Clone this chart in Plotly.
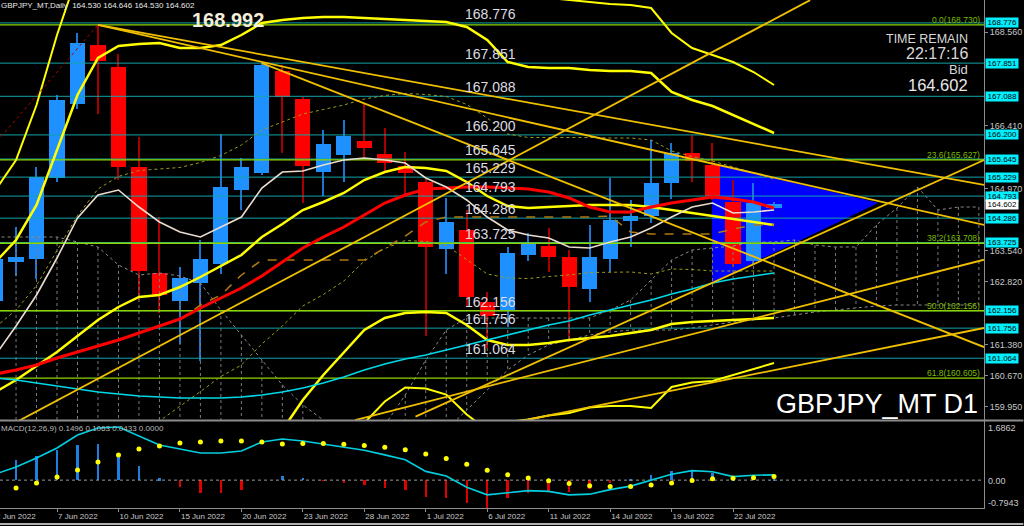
import plotly.graph_objects as go

# ---------------- data ----------------
bar_dates = ["2 Jun", "3 Jun", "6 Jun", "7 Jun", "8 Jun", "9 Jun", "10 Jun", "13 Jun", "14 Jun", "15 Jun",
             "16 Jun", "17 Jun", "20 Jun", "21 Jun", "22 Jun", "23 Jun", "24 Jun", "27 Jun", "28 Jun", "29 Jun",
             "30 Jun", "1 Jul", "4 Jul", "5 Jul", "6 Jul", "7 Jul", "8 Jul", "11 Jul", "12 Jul", "13 Jul",
             "14 Jul", "15 Jul", "18 Jul", "19 Jul", "20 Jul", "21 Jul", "22 Jul", "25 Jul", "26 Jul"]
opens = [162.38, 163.28, 163.35, 165.21, 166.91, 168.27, 167.76, 165.46, 163.02, 162.38,
         162.79, 163.23, 164.93, 165.32, 167.67, 167.03, 165.35, 165.74, 166.06, 165.76,
         165.49, 165.12, 163.58, 164.01, 162.36, 162.15, 163.44, 163.64, 163.39, 162.66,
         163.35, 164.22, 164.34, 165.09, 165.78, 165.51, 164.66, 163.30, 164.530]
highs = [163.55, 164.08, 165.46, 167.12, 168.54, 168.73, 168.06, 166.15, 164.31, 163.16,
         163.78, 166.22, 165.67, 167.85, 167.81, 167.07, 166.31, 166.54, 166.93, 166.36,
         165.81, 165.21, 164.75, 164.47, 162.59, 163.62, 163.94, 164.06, 163.55, 164.13,
         165.21, 164.70, 166.08, 166.01, 166.20, 166.01, 165.16, 165.09, 164.646]
lows = [162.20, 162.95, 162.89, 165.12, 166.80, 166.68, 165.16, 162.40, 162.10, 161.40,
        161.00, 163.00, 164.47, 165.28, 165.78, 164.63, 164.80, 165.12, 165.69, 165.35,
        164.77, 161.58, 163.00, 162.27, 161.30, 161.78, 163.30, 163.05, 161.44, 162.36,
        163.05, 163.62, 164.17, 164.73, 165.12, 164.70, 163.16, 163.23, 164.530]
closes = [163.35, 163.39, 165.23, 167.00, 168.31, 167.90, 165.46, 163.07, 162.52, 162.91,
          163.35, 165.00, 165.46, 167.81, 167.07, 165.49, 165.99, 166.18, 165.90, 165.55,
          165.32, 163.62, 164.20, 162.47, 162.04, 163.48, 163.71, 163.39, 162.70, 163.39,
          164.24, 164.34, 165.09, 165.78, 165.60, 164.80, 163.23, 164.63, 164.602]
bar_idx = list(range(len(opens)))

tick_idx = [3, 6, 9, 12, 15, 18, 21, 24, 27, 30, 33, 36]
tick_text = ["7 Jun 2022", "10 Jun 2022", "15 Jun 2022", "20 Jun 2022", "23 Jun 2022", "28 Jun 2022",
             "1 Jul 2022", "6 Jul 2022", "11 Jul 2022", "14 Jul 2022", "19 Jul 2022", "22 Jul 2022"]
first_label = "2 Jun 2022"

# moving averages
ma_red = [160.701, 160.793, 160.908, 161.069, 161.207, 161.345, 161.483, 161.644, 161.805, 161.966,
          162.219, 162.449, 162.679, 162.955, 163.277, 163.599, 163.852, 164.082, 164.358, 164.634,
          164.818, 164.956, 164.979, 165.002, 165.002, 164.979, 164.956, 164.887, 164.749, 164.542,
          164.427, 164.427, 164.542, 164.634, 164.703, 164.772, 164.726, 164.657, 164.519]
ma_white = [161.138, 161.805, 162.518, 163.369, 164.289, 164.818, 164.933, 164.542, 164.197, 163.967,
            163.852, 164.082, 164.312, 164.979, 165.347, 165.370, 165.508, 165.623, 165.669, 165.623,
            165.554, 165.209, 165.002, 164.703, 164.312, 164.013, 163.898, 163.829, 163.622, 163.599,
            163.737, 163.852, 164.059, 164.312, 164.542, 164.634, 164.404, 164.427, 164.473]
ma_cyan = [160.609, 160.563, 160.494, 160.425, 160.356, 160.287, 160.241, 160.195, 160.172, 160.149,
           160.149, 160.149, 160.172, 160.218, 160.287, 160.379, 160.494, 160.632, 160.793, 160.931,
           161.046, 161.138, 161.253, 161.368, 161.483, 161.598, 161.713, 161.828, 161.920, 162.058,
           162.173, 162.288, 162.403, 162.541, 162.656, 162.794, 162.886, 162.955, 163.024]

# Bollinger-style bands
bb_mid = [160.287, 160.563, 160.885, 161.207, 161.575, 161.943, 162.242, 162.472, 162.518, 162.702,
          162.932, 163.185, 163.438, 163.852, 164.151, 164.473, 164.657, 164.864, 165.163, 165.347,
          165.462, 165.439, 165.370, 165.117, 164.795, 164.565, 164.519, 164.542, 164.565, 164.588,
          164.588, 164.588, 164.542, 164.473, 164.404, 164.335, 164.266, 164.197, 164.128]
bb_up2 = [163.277, 163.783, 164.588, 165.853, 167.118, 167.969, 168.245, 168.291, 168.314, 168.199,
          168.199, 168.268, 168.498, 168.774, 168.843, 168.889, 168.912, 168.912, 168.889, 168.866,
          168.843, 168.820, 168.797, 168.682, 168.383, 167.877, 167.762, 167.739, 167.739, 167.693,
          167.670, 167.670, 167.624, 167.187, 167.003, 166.865, 166.658, 166.451, 166.244]
bb_lo2 = [157.297, 157.343, 157.182, 156.561, 156.032, 155.917, 156.239, 156.653, 156.722, 157.205,
          157.665, 158.102, 158.378, 158.930, 159.413, 160.103, 160.678, 161.207, 161.713, 161.989,
          162.104, 162.127, 162.104, 161.828, 161.483, 161.368, 161.368, 161.414, 161.483, 161.529,
          161.575, 161.644, 161.713, 161.851, 161.897, 161.920, 161.943, 161.966, 161.989]
bb_up3 = [164.933, 165.623, 166.888, 168.498, 169.890, 170.982, 171.247, 171.201, 171.212, 170.948,
          170.833, 170.810, 171.028, 171.235, 171.189, 171.097, 171.040, 170.936, 170.752, 170.626,
          170.534, 170.511, 170.511, 170.465, 170.177, 169.533, 169.384, 169.350, 169.303, 169.256,
          169.211, 169.188, 169.119, 168.544, 168.199, 168.038, 167.877, 167.647, 167.348]
bb_lo3 = [155.802, 155.733, 155.330, 154.238, 153.260, 152.904, 153.237, 153.743, 153.824, 154.456,
          155.031, 155.560, 155.848, 156.469, 157.113, 157.849, 158.274, 158.792, 159.574, 160.068,
          160.390, 160.367, 160.229, 159.769, 159.413, 159.597, 159.654, 159.746, 159.804, 159.930,
          159.965, 159.965, 159.919, 160.402, 160.505, 160.540, 160.678, 160.816, 160.954]
bb_up1 = [161.782, 162.173, 162.737, 163.530, 164.347, 164.956, 165.244, 165.382, 165.416, 165.451,
          165.566, 165.727, 165.968, 166.313, 166.497, 166.681, 166.785, 166.888, 167.026, 167.107,
          167.153, 167.130, 167.084, 166.900, 166.589, 166.221, 166.141, 166.141, 166.152, 166.141,
          166.129, 166.129, 166.083, 165.830, 165.704, 165.600, 165.462, 165.324, 165.186]
bb_lo1 = [158.792, 158.953, 159.033, 158.884, 158.803, 158.930, 159.240, 159.562, 159.620, 159.953,
          160.298, 160.643, 160.908, 161.391, 161.805, 162.265, 162.529, 162.840, 163.300, 163.587,
          163.771, 163.748, 163.656, 163.334, 163.001, 162.909, 162.897, 162.943, 162.978, 163.035,
          163.047, 163.047, 163.001, 163.116, 163.104, 163.070, 163.070, 163.070, 163.070]

# dashed base line
kijun_idx = list(range(9, 39))
kijun = [161.943, 162.288, 162.518, 162.978, 163.323, 163.323, 163.323, 163.323, 163.323, 163.323,
         163.599, 163.875, 164.197, 164.312, 164.312, 164.312, 164.312, 164.312, 164.312, 164.312,
         164.312, 164.335, 163.967, 163.921, 163.921, 163.921, 163.921, 164.036, 164.128, 164.128]

# cloud (dotted), shifted into the future
cloud_idx = list(range(0, 49))
span_a = [163.852, 163.852, 163.852, 163.852, 163.737, 163.622, 163.208, 162.978, 163.024, 162.955,
          162.794, 162.173, 161.598, 161.023, 160.448, 159.988, 159.643, 159.413, 159.298, 159.528,
          160.218, 161.023, 161.713, 161.989, 161.989, 161.989, 161.989, 161.989, 161.989, 161.989,
          162.173, 162.403, 162.863, 163.323, 163.553, 163.599, 163.645, 163.737, 163.737, 163.783,
          163.668, 163.622, 163.622, 164.128, 164.519, 165.002, 164.473, 164.542, 164.542]
span_b = [159.183, 159.183, 159.183, 159.183, 159.183, 159.183, 159.183, 159.183, 159.183, 159.183,
          159.183, 159.183, 159.183, 159.183, 159.183, 159.183, 159.183, 159.183, 159.183, 159.183,
          159.183, 159.183, 159.413, 159.873, 160.333, 160.793, 161.138, 161.368, 161.483, 161.598,
          161.667, 161.713, 161.713, 161.713, 161.759, 161.828, 161.897, 161.943, 161.989, 162.058,
          162.127, 162.173, 162.219, 162.265, 162.288, 162.288, 162.288, 162.288, 162.288]

# zigzag segment (red dotted)
zig_idx = [-3.0, 5.0]
zig_val = [164.39, 168.73]

# trend lines: (start index, start price, end index, end price)
trend_x0 = [5.0, 5.0, 13.0, 0.2, 20.5, 17.55, 25.85]
trend_p0 = [168.73, 168.73, 167.85, 159.39, 159.72, 159.64, 159.64]
trend_x1 = [48.25, 48.25, 48.25, 39.76, 48.25, 48.25, 48.25]
trend_p1 = [165.05, 164.13, 161.32, 169.30, 165.62, 163.33, 161.76]

# blue triangle
tri_idx = [35.0, 43.03, 35.0]
tri_val = [165.531, 164.634, 162.817]

# horizontal price levels
levels = [168.776, 167.851, 167.088, 166.200, 165.645, 165.229, 164.793, 164.286, 163.725, 162.156, 161.756, 161.064]
fib_vals = [168.730, 165.627, 163.708, 162.156, 160.605]
fib_pct = ["0.0", "23.6", "38.2", "50.0", "61.8"]
bid = 164.602
axis_ticks = [168.560, 166.410, 164.970, 163.540, 162.820, 161.380, 160.670, 159.950]

# MACD pane
macd_line = [0.175, 0.374, 0.631, 0.916, 1.287, 1.486, 1.515, 1.258, 1.002, 0.888, 0.774, 0.774, 0.831, 1.087,
             1.173, 1.116, 1.030, 0.95, 0.85, 0.72, 0.58, 0.25, 0.12, -0.20, -0.42, -0.36, -0.30, -0.32,
             -0.42, -0.40, -0.27, -0.17, 0.0, 0.17, 0.27, 0.24, 0.10, 0.14, 0.1496]
macd_signal = [-0.281, -0.224, -0.082, 0.089, 0.289, 0.517, 0.717, 0.888, 0.973, 1.059, 1.087, 1.116, 1.116,
               1.087, 1.030, 1.047, 1.044, 1.025, 0.990, 0.936, 0.865, 0.742, 0.618, 0.454, 0.279, 0.151,
               0.061, -0.015, -0.096, -0.157, -0.180, -0.178, -0.142, -0.080, -0.010, 0.040, 0.052, 0.070, 0.1063]
macd_hist = [0.456, 0.574, 0.688, 0.859, 1.002, 1.030, 0.782, 0.403, 0.052, -0.204, -0.376, -0.358, -0.281,
             0.0, 0.118, 0.069, -0.014, -0.075, -0.140, -0.216, -0.285, -0.492, -0.498, -0.654, -0.7943,
             -0.511, -0.361, -0.305, -0.324, -0.243, -0.090, 0.008, 0.142, 0.250, 0.280, 0.200, 0.048, 0.070, 0.0433]
macd_top, macd_bottom = 1.6862, -0.7943

# ---------------- figure ----------------
X_RANGE = [0.217, 48.25]
P_RANGE = [159.643, 169.303]
FONT = "Liberation Sans, Arial, sans-serif"
UP_BODY, UP_WICK = "#1E90FF", "#1C74D4"
DN_BODY, DN_WICK = "#FF0000", "#A80000"
PAD = "\u2009"

fig = go.Figure()

# triangle (background object)
tri_path = "M {} {} L {} {} L {} {} Z".format(tri_idx[0], tri_val[0], tri_idx[1], tri_val[1], tri_idx[2], tri_val[2])
fig.add_shape(type="path", path=tri_path, xref="x", yref="y", fillcolor="#0000FF",
              line=dict(color="#0000FF", width=1), layer="below")

# candles: wicks then bodies
is_up = [c >= o for o, c in zip(opens, closes)]
fig.add_trace(go.Bar(x=bar_idx, y=[h - l for h, l in zip(highs, lows)], base=lows, width=0.06,
                     marker=dict(color=[UP_WICK if u else DN_WICK for u in is_up], line=dict(width=0)),
                     hoverinfo="skip"))
fig.add_trace(go.Bar(x=bar_idx, y=[max(abs(c - o), 0.02) for o, c in zip(opens, closes)],
                     base=[min(o, c) for o, c in zip(opens, closes)], width=0.74,
                     marker=dict(color=[UP_BODY if u else DN_BODY for u in is_up], line=dict(width=0)),
                     customdata=bar_dates))

# cloud hatch (vertical dotted lines) + borders
hx, hy = [], []
for i, a, b in zip(cloud_idx, span_a, span_b):
    hx += [i, i, None]
    hy += [a, b, None]
fig.add_trace(go.Scatter(x=hx, y=hy, mode="lines", line=dict(color="#7a7a7a", width=1, dash="dot"),
                         hoverinfo="skip"))
fig.add_trace(go.Scatter(x=cloud_idx, y=span_a, mode="lines", line=dict(color="#8a8a8a", width=1, dash="dot")))
fig.add_trace(go.Scatter(x=cloud_idx, y=span_b, mode="lines", line=dict(color="#8a8a8a", width=1, dash="dot")))

# horizontal levels
for v in levels:
    fig.add_trace(go.Scatter(x=X_RANGE, y=[v, v], mode="lines", line=dict(color="#13A3AA", width=1)))
for v in fib_vals:
    fig.add_trace(go.Scatter(x=X_RANGE, y=[v, v], mode="lines", line=dict(color="#8CD400", width=1.3)))

# bands
for arr, w, d, c in [(bb_up1, 1, "dot", "#9C9C1A"), (bb_lo1, 1, "dot", "#9C9C1A"),
                     (bb_up3, 2, "solid", "#FFFF00"), (bb_lo3, 2, "solid", "#FFFF00"),
                     (bb_up2, 2.5, "solid", "#FFFF00"), (bb_lo2, 2.5, "solid", "#FFFF00"),
                     (bb_mid, 2.5, "solid", "#FFFF00")]:
    fig.add_trace(go.Scatter(x=bar_idx, y=arr, mode="lines", line=dict(color=c, width=w, dash=d)))

fig.add_trace(go.Scatter(x=kijun_idx, y=kijun, mode="lines", line=dict(color="#B07A10", width=1.5, dash="dash")))
fig.add_trace(go.Scatter(x=bar_idx, y=ma_cyan, mode="lines", line=dict(color="#00D8E8", width=1.6)))
fig.add_trace(go.Scatter(x=bar_idx, y=ma_red, mode="lines", line=dict(color="#FF0000", width=3)))
fig.add_trace(go.Scatter(x=bar_idx, y=ma_white, mode="lines", line=dict(color="#EADCCF", width=1.6)))
fig.add_trace(go.Scatter(x=zig_idx, y=zig_val, mode="lines", line=dict(color="#B00000", width=1, dash="dot")))

# trend lines
for x0, p0, x1, p1 in zip(trend_x0, trend_p0, trend_x1, trend_p1):
    fig.add_trace(go.Scatter(x=[x0, x1], y=[p0, p1], mode="lines", line=dict(color="#F0C000", width=1.8)))

# MACD pane
fig.add_trace(go.Scatter(x=X_RANGE, y=[0, 0], mode="lines", yaxis="y2",
                         line=dict(color="#9a9a9a", width=1, dash="dot")))
fig.add_trace(go.Bar(x=bar_idx, y=macd_hist, yaxis="y2", width=0.12,
                     marker=dict(color=["#1E7FE0" if v >= 0 else "#E00000" for v in macd_hist], line=dict(width=0))))
fig.add_trace(go.Scatter(x=bar_idx, y=macd_line, mode="lines", yaxis="y2", line=dict(color="#00CFE0", width=1.6)))
fig.add_trace(go.Scatter(x=bar_idx, y=macd_signal, mode="markers", yaxis="y2",
                         marker=dict(color="#FFFF00", size=5)))

# ---------------- annotations ----------------
ann = []
LBL_X = 22.82
for v in levels:
    ann.append(dict(x=LBL_X, y=v, xref="x", yref="y", text=f"{v:.3f}", showarrow=False, xanchor="left",
                    yanchor="bottom", yshift=-1, font=dict(family=FONT, size=14, color="#DCDCE4")))
    ann.append(dict(x=1, y=v, xref="paper", yref="y", text=f"{PAD}{v:.3f}{PAD}", showarrow=False, xanchor="left",
                    yanchor="middle", xshift=1, bgcolor="#00F0FF", borderpad=0,
                    font=dict(family=FONT, size=8, color="#000000")))
for v, pct in zip(fib_vals, fib_pct):
    ann.append(dict(x=1, y=v, xref="paper", yref="y", text=f"{pct}({v:.3f})", showarrow=False,
                    xanchor="right", yanchor="bottom", xshift=-2, yshift=-2,
                    font=dict(family=FONT, size=8.5, color="#7DBB00")))
ann.append(dict(x=1, y=bid, xref="paper", yref="y", text=f"{PAD}{bid:.3f}{PAD}", showarrow=False, xanchor="left",
                yanchor="middle", xshift=1, bgcolor="#FFFFFF", borderpad=0,
                font=dict(family=FONT, size=8, color="#000000")))
ann.append(dict(x=9.49, y=168.843, xref="x", yref="y", text="<b>168.992</b>", showarrow=False, xanchor="left",
                yanchor="middle", font=dict(family=FONT, size=20, color="#F4EEDC")))
ann.append(dict(x=0, y=1, xref="paper", yref="paper", text="GBPJPY_MT,Daily  164.530 164.646 164.530 164.602",
                showarrow=False, xanchor="left", yanchor="top", xshift=-1, yshift=1,
                font=dict(family=FONT, size=8, color="#E8E8E8")))
ann.append(dict(x=0.9858, y=1 - 39 / 508, xref="paper", yref="paper", text="TIME REMAIN", showarrow=False,
                xanchor="right", yanchor="middle", font=dict(family=FONT, size=12.5, color="#D8D8D8")))
ann.append(dict(x=0.9858, y=1 - 53 / 508, xref="paper", yref="paper", text="22:17:16", showarrow=False,
                xanchor="right", yanchor="middle", font=dict(family=FONT, size=16, color="#D8D8D8")))
ann.append(dict(x=0.9858, y=1 - 70 / 508, xref="paper", yref="paper", text="Bid", showarrow=False,
                xanchor="right", yanchor="middle", font=dict(family=FONT, size=13, color="#D8D8D8")))
ann.append(dict(x=0.9858, y=1 - 85 / 508, xref="paper", yref="paper", text="164.602", showarrow=False,
                xanchor="right", yanchor="middle", font=dict(family=FONT, size=16.5, color="#E8E8E8")))
ann.append(dict(x=0.9960, y=1 - 404 / 508, xref="paper", yref="paper", text="GBPJPY_MT D1", showarrow=False,
                xanchor="right", yanchor="middle", font=dict(family=FONT, size=27, color="#FFFFFF")))
ann.append(dict(x=0, y=1 - 428 / 508, xref="paper", yref="paper",
                text="MACD(12,26,9) 0.1496 0.1063 0.0433 0.0000", showarrow=False, xanchor="left",
                yanchor="middle", xshift=-1, font=dict(family=FONT, size=8, color="#B8B8B8")))
for v, yy in [(macd_top, 428), (0.0, 481), (macd_bottom, 503)]:
    ann.append(dict(x=1, y=1 - yy / 508, xref="paper", yref="paper",
                    text=("0.00" if v == 0 else f"{v:.4f}"), showarrow=False, xanchor="left",
                    yanchor="middle", xshift=2, font=dict(family=FONT, size=9, color="#C8C8C8")))
ann.append(dict(x=0, y=0, xref="paper", yref="paper", text=first_label, showarrow=False,
                xanchor="left", yanchor="top", xshift=-6, yshift=-2,
                font=dict(family=FONT, size=8, color="#C8C8C8")))

shapes = [
    dict(type="line", xref="paper", yref="paper", x0=0, x1=1.04, y0=1 - 420.5 / 508, y1=1 - 420.5 / 508,
         line=dict(color="#8C8C8C", width=2)),
    dict(type="line", xref="paper", yref="paper", x0=0, x1=1.04, y0=-16 / 508, y1=-16 / 508,
         line=dict(color="#B0B0B0", width=2)),
]
for s in shapes:
    fig.add_shape(**s)

fig.update_layout(
    width=1024, height=526, margin=dict(l=0, r=40, t=0, b=18),
    paper_bgcolor="#000000", plot_bgcolor="#000000", showlegend=False,
    annotations=ann, barmode="overlay", bargap=0,
    xaxis=dict(range=X_RANGE, anchor="y2", tickvals=tick_idx, ticktext=tick_text,
               ticklabelposition="outside right", ticks="outside", ticklen=3, tickcolor="#8C8C8C",
               tickfont=dict(family=FONT, size=8, color="#C8C8C8"), showgrid=False, zeroline=False,
               showline=True, linecolor="#8C8C8C", linewidth=1, rangeslider=dict(visible=False)),
    yaxis=dict(domain=[88 / 508, 1], range=P_RANGE, side="right", anchor="x",
               tickvals=axis_ticks, ticktext=[f"{v:.3f}" for v in axis_ticks],
               ticks="outside", ticklen=3, tickcolor="#8C8C8C",
               tickfont=dict(family=FONT, size=9, color="#C8C8C8"), showgrid=False, zeroline=False,
               showline=True, linecolor="#8C8C8C", linewidth=1),
    yaxis2=dict(domain=[0, 87 / 508], range=[macd_bottom, macd_top], side="right", anchor="x",
                showticklabels=False, ticks="", showgrid=False, zeroline=False,
                showline=True, linecolor="#8C8C8C", linewidth=1),
)

fig.write_html("out.html", config={"displayModeBar": False},
               post_script="document.body.style.margin='0';document.body.style.padding='0';"
                           "document.body.style.background='#000';")
